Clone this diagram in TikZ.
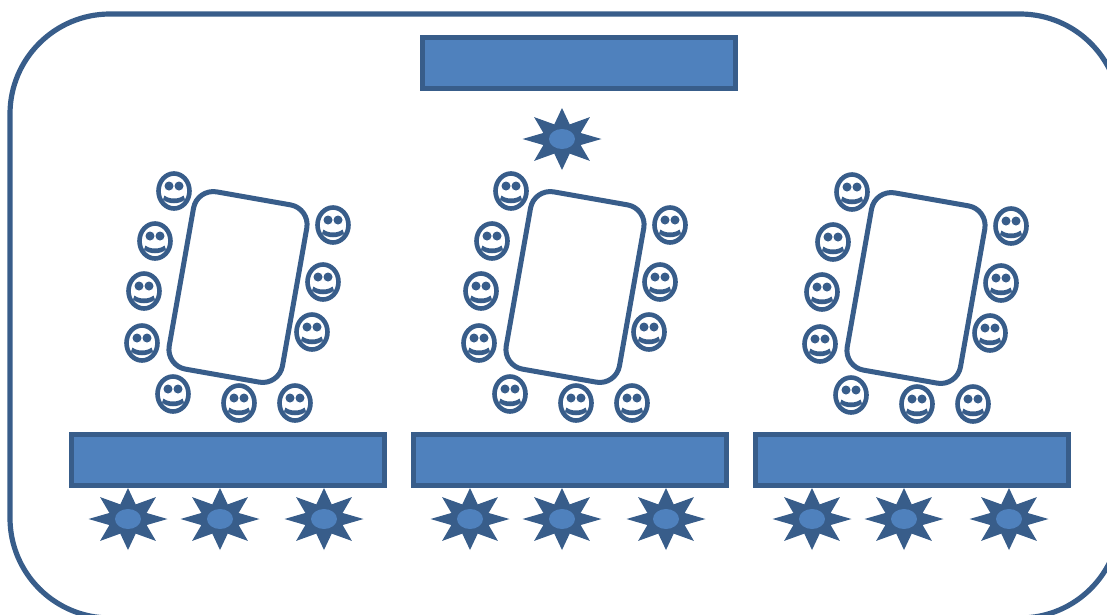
\documentclass[tikz,border=0pt]{standalone}
\definecolor{fillblue}{HTML}{4F81BD}
\definecolor{edgeblue}{HTML}{385D8A}
\tikzset{
  x=1pt,y=-1pt,
  bar/.style={draw=edgeblue,fill=fillblue,line width=5.2pt,minimum width=312.5pt,minimum height=50.5pt,inner sep=0pt,anchor=center},
  tablebox/.style={draw=edgeblue,fill=white,line width=5pt,rounded corners=20pt,minimum width=115pt,minimum height=180pt,rotate=-10,inner sep=0pt},
  person/.pic={
    \draw[edgeblue,line width=4.6pt,fill=white] (0,0) ellipse [x radius=15.5,y radius=17.5];
    \fill[edgeblue] (-5,-5) circle [radius=4.5] (5,-5) circle [radius=4.5];
    \fill[edgeblue] (-9.5,4.5) .. controls (-5,8.5) and (5,8.5) .. (9.5,4.5) -- (11,8.5)
      .. controls (6,13.5) and (-6,13.5) .. (-11,8.5) -- cycle;
  },
  burst/.pic={
    \fill[edgeblue] plot[samples at={0,1,...,15}]
      ({39.5*(1-0.49*mod(\x,2))*cos(\x*22.5)},{31*(1-0.49*mod(\x,2))*sin(\x*22.5)}) -- cycle;
    \fill[fillblue] (0,0) ellipse [x radius=13,y radius=10];
  },
  cluster/.pic={
    \node[tablebox] (tbl) at (238,287) {};
    \foreach \p in {(174,191),(155,241),(144,291),(142,343),(173,394),(239,403),(295,403),(333,225),(323,282),(312,332)}
      \pic at \p {person};
  }
}
\begin{document}
\begin{tikzpicture}
\useasboundingbox (0,0) rectangle (1107,614);
\clip (0,0) rectangle (1107,614);
\draw[edgeblue,line width=5.2pt,rounded corners=100pt] (10,14) rectangle (1120,618);
\node[bar] (topbar) at (579,63) {};
\node[bar] (bar1) at (228,460) {};
\node[bar] (bar2) at (570,460) {};
\node[bar] (bar3) at (912,460) {};
\pic at (562,139) {burst};
\foreach \s in {128,220,324,470,562,666,812,904,1009}
  \pic at (\s,519) {burst};
\pic at (0,0) {cluster};
\pic at (337,0) {cluster};
\pic at (678,1) {cluster};
\end{tikzpicture}
\end{document}
